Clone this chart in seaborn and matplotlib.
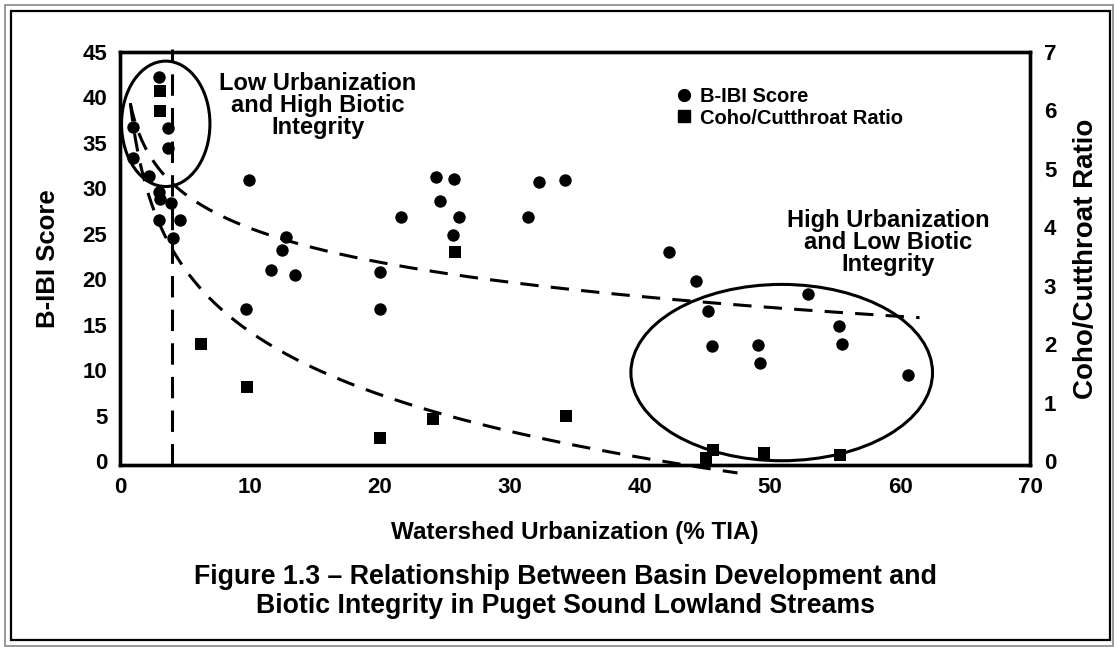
import numpy as np
import pandas as pd
import matplotlib
matplotlib.use("Agg")
import matplotlib.pyplot as plt
from matplotlib.patches import Ellipse, Rectangle
from matplotlib.lines import Line2D
import seaborn as sns

# ---------------- data ----------------
bibi_tia = [3.0, 1.0, 3.7, 3.7, 1.0, 2.2, 3.0, 3.1, 3.9, 3.0, 4.6, 4.1,
            9.9, 12.8, 12.5, 11.6, 13.5, 20.0, 9.7, 20.0, 21.6,
            24.3, 25.7, 24.6, 26.1, 25.6, 32.2, 34.2, 31.4,
            42.2, 44.3, 45.2, 45.5, 49.1, 49.2, 52.9, 55.3, 55.5, 60.6]
bibi_score = [42.3, 36.8, 36.6, 34.4, 33.3, 31.4, 29.6, 28.8, 28.4, 26.5, 26.5, 24.5,
              30.9, 24.7, 23.2, 21.0, 20.5, 20.8, 16.7, 16.7, 26.9,
              31.2, 31.0, 28.6, 26.8, 24.9, 30.7, 30.9, 26.8,
              23.0, 19.8, 16.5, 12.7, 12.8, 10.8, 18.4, 14.9, 12.9, 9.5]

coho_tia = [3.1, 3.1, 6.2, 9.8, 20.0, 24.1, 25.8, 34.3, 45.6, 45.1, 49.5, 55.4]
coho_ratio = [6.33, 5.99, 2.0, 1.27, 0.40, 0.72, 3.57, 0.77, 0.19, 0.05, 0.13, 0.10]

# logarithmic trend lines: y = a - b*ln(x)
bibi_trend = (38.1, 5.42, 0.8, 61.5)     # a, b, x start, x end
coho_trend = (5.78, 1.55, 0.8, 47.5)
threshold_tia = 4.0

x_ticks = [0, 10, 20, 30, 40, 50, 60, 70]
y_ticks = [0, 5, 10, 15, 20, 25, 30, 35, 40, 45]
y2_ticks = [0, 1, 2, 3, 4, 5, 6, 7]

bibi_df = pd.DataFrame({"tia": bibi_tia, "score": bibi_score})
coho_df = pd.DataFrame({"tia": coho_tia, "ratio": coho_ratio})

# ---------------- style ----------------
sns.set_theme(style="white")
plt.rcParams["font.family"] = ["Liberation Sans", "DejaVu Sans"]
plt.rcParams["font.weight"] = "bold"
for k in ("text.color", "axes.labelcolor", "xtick.color", "ytick.color"):
    plt.rcParams[k] = "black"

fig = plt.figure(figsize=(11.15, 6.47), dpi=100)
ax = fig.add_axes([0.1076, 0.2813, 0.8162, 0.6383])
ax2 = ax.twinx()

LW = 2.2
DASH = (6, 4)

sns.scatterplot(data=bibi_df, x="tia", y="score", ax=ax, marker="o", s=80,
                color="black", edgecolor="black", linewidth=0, zorder=5, legend=False)
sns.scatterplot(data=coho_df, x="tia", y="ratio", ax=ax2, marker="s", s=70,
                color="black", edgecolor="black", linewidth=0, zorder=5, legend=False)

# trend lines
a, b, x0, x1 = bibi_trend
xs = np.geomspace(x0, x1, 200)
ax.plot(xs, a - b * np.log(xs), color="black", lw=LW, dashes=DASH, zorder=4)
a, b, x0, x1 = coho_trend
xs = np.geomspace(x0, x1, 200)
ax2.plot(xs, a - b * np.log(xs), color="black", lw=LW, dashes=DASH, zorder=4,
         clip_on=False)
ax.plot([threshold_tia, threshold_tia], [-0.4, 45.3], color="black", lw=LW,
        dashes=(7, 4), clip_on=False, zorder=4)

# ellipses
ax.add_patch(Ellipse((3.52, 37.1), 6.8, 13.8, fill=False, edgecolor="black",
                     lw=LW, zorder=6))
ax.add_patch(Ellipse((50.9, 9.73), 23.2, 19.4, fill=False, edgecolor="black",
                     lw=LW, zorder=6))

# annotations
ax.text(15.2, 39.1, "Low Urbanization\nand High Biotic\nIntegrity", ha="center",
        va="center", fontsize=17, fontweight="bold", linespacing=0.95, color="black")
ax.text(59.1, 24.0, "High Urbanization\nand Low Biotic\nIntegrity", ha="center",
        va="center", fontsize=17, fontweight="bold", linespacing=0.95, color="black")

# axes limits / ticks
ax.set_xlim(0, 70)
ax.set_ylim(-0.44, 45)
ax2.set_ylim(-0.068, 7)
ax.set_xticks(x_ticks)
ax.set_yticks(y_ticks)
ax2.set_yticks(y2_ticks)
ax.set_xticklabels([str(v) for v in x_ticks], fontsize=16, fontweight="bold")
ax.set_yticklabels([str(v) for v in y_ticks], fontsize=16, fontweight="bold")
ax2.set_yticklabels([str(v) for v in y2_ticks], fontsize=16, fontweight="bold")
ax.tick_params(axis="both", length=0, pad=9, colors="black")
ax2.tick_params(axis="y", length=0, pad=10, colors="black")

ax.set_xlabel("Watershed Urbanization (% TIA)", fontsize=17.5, fontweight="bold",
              color="black")
ax.set_ylabel("B-IBI Score", fontsize=18.5, fontweight="bold", color="black")
ax2.set_ylabel("Coho/Cutthroat Ratio", fontsize=20, fontweight="bold", color="black")
ax.xaxis.set_label_coords(0.5, -0.135)
ax.yaxis.set_label_coords(-0.066, 0.5)
ax2.yaxis.set_label_coords(1.047, 0.5)

for a_ in (ax, ax2):
    for sp in a_.spines.values():
        sp.set_visible(True)
        sp.set_color("black")
        sp.set_linewidth(2.4)
ax.grid(False)
ax2.grid(False)

# legend
handles = [Line2D([], [], marker="o", color="black", ls="none", markersize=8.5),
           Line2D([], [], marker="s", color="black", ls="none", markersize=8)]
leg = ax.legend(handles, ["B-IBI Score", "Coho/Cutthroat Ratio"], loc="upper left",
                bbox_to_anchor=(0.589, 0.958), frameon=False, handletextpad=0.3,
                labelspacing=0.1, handlelength=1.0,
                prop={"size": 14.5, "weight": "bold"})
for t in leg.get_texts():
    t.set_color("black")

# caption
fig.text(0.507, 0.086, "Figure 1.3 \u2013 Relationship Between Basin Development and\n"
         "Biotic Integrity in Puget Sound Lowland Streams", ha="center", va="center",
         fontsize=19.3, fontweight="bold", linespacing=1.15, color="black")

# page frame
W, H = 1115.0, 647.0
fig.add_artist(Rectangle((5 / W, 1 - 646 / H), (1113 - 5) / W, (646 - 5) / H,
                         transform=fig.transFigure, fill=False,
                         edgecolor="#888888", lw=1.2))
fig.add_artist(Rectangle((11 / W, 1 - 640 / H), (1110 - 11) / W, (640 - 11) / H,
                         transform=fig.transFigure, fill=False,
                         edgecolor="black", lw=1.6))

fig.savefig("out.png", dpi=100)
